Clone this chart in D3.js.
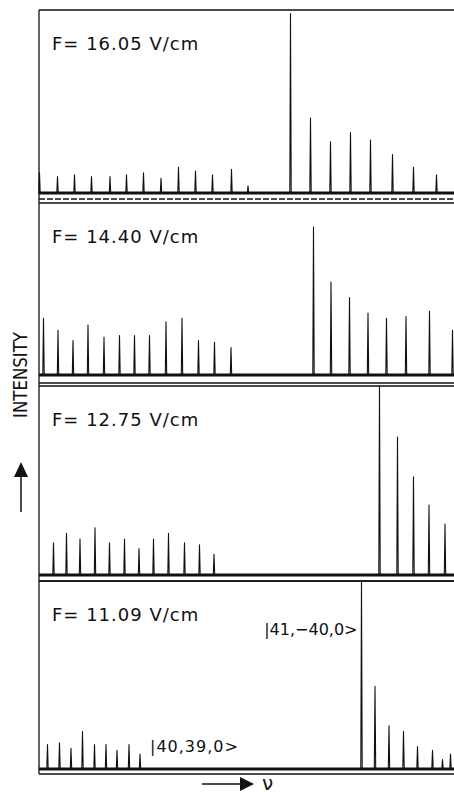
<!doctype html>
<html>
	<head>
		<style>
			body{ margin: 0; background: #fff; }
			#chart text{ font-family: "DejaVu Sans", sans-serif; fill: #111; }
		</style>
	</head>
	<body>
		<svg id=chart></svg>

		<script src="https://d3js.org/d3.v7.min.js"></script>
		<script>
			// field strengths, one panel each (top to bottom)
			var fields = ["F= 16.05 V/cm", "F= 14.40 V/cm", "F= 12.75 V/cm", "F= 11.09 V/cm"];

			// peak positions (arbitrary frequency units) and heights (% of panel height)
			var nu16  = [0.5, 18.5, 35.5, 52.5, 71, 87.5, 104.5, 122, 139.5, 156.5, 173.5, 192.5, 209, 251.5, 271.5, 291.5, 311.5, 331.5, 353.5, 374.5, 397.5];
			var int16 = [11, 9, 10, 9, 9, 10, 11, 8, 14, 12, 10, 13, 4, 98, 41, 28, 33, 29, 21, 14, 10];

			var nu14  = [4.5, 19, 34, 49, 65, 80.5, 95.5, 110.5, 127, 143, 159.5, 175.5, 192, 274.5, 292, 310.5, 329, 347.5, 367, 390.5, 413.5];
			var int14 = [33, 26, 20, 29, 22, 23, 23, 23, 31, 33, 20, 19, 16, 86, 54, 45, 36, 33, 34, 37, 26];

			var nu12  = [14.5, 27.5, 41, 56, 70.5, 85.5, 100, 114.5, 129.5, 145.5, 160.5, 175, 340.5, 358.5, 374.5, 390, 406];
			var int12 = [17, 22, 19, 25, 17, 19, 14, 19, 22, 17, 16, 11, 100, 73, 52, 37, 27];

			var nu11  = [8.5, 20.5, 32, 43.5, 55.5, 67, 78, 90, 101, 322.5, 336, 350, 364.5, 378.5, 393.5, 403.5, 411.5];
			var int11 = [13, 14, 11, 20, 13, 13, 10, 13, 8, 100, 44, 23, 20, 12, 10, 5, 8];

			var peakNu = [nu16, nu14, nu12, nu11],
				peakInt = [int16, int14, int12, int11];

			// panel frames: top, baseline of trace, bottom
			var panels = [
				{top: 10,  base: 193, bottom: 199},
				{top: 203, base: 375, bottom: 383},
				{top: 386, base: 575, bottom: 581},
				{top: 581, base: 769, bottom: 774}
			];

			var width = 454, height = 795, left = 39;
			var chart = d3.select("#chart").attr("width", width).attr("height", height);

			var x = d3.scaleLinear().domain([0, 415]).range([left, width]);

			panels.forEach(function(p, k) {
				var y = d3.scaleLinear().domain([0, 100]).range([p.base, p.top]);
				var g = chart.append("g");

				// frame
				g.append("line").attr("x1", left).attr("x2", width)
					.attr("y1", p.top).attr("y2", p.top)
					.attr("stroke", "#111").attr("stroke-width", 1.3);
				g.append("line").attr("x1", left).attr("x2", width)
					.attr("y1", p.bottom).attr("y2", p.bottom)
					.attr("stroke", "#111").attr("stroke-width", 1.3)
					.attr("stroke-dasharray", k == 0 ? "6,2" : null);

				// noisy baseline band
				g.append("line").attr("x1", left).attr("x2", width)
					.attr("y1", p.base).attr("y2", p.base)
					.attr("stroke", "#111").attr("stroke-width", 3);

				// spectrum: each peak is a narrow spike
				var pts = [[0, 0]];
				peakNu[k].forEach(function(n, i) {
					pts.push([n - 0.7, 0], [n, peakInt[k][i]], [n + 0.7, 0]);
				});
				pts.push([415, 0]);
				var line = d3.line().x(function(d) { return x(d[0]); }).y(function(d) { return y(d[1]); });
				g.append("path").attr("d", line(pts))
					.attr("fill", "none").attr("stroke", "#111")
					.attr("stroke-width", 1.1).attr("stroke-linejoin", "round");

				g.append("text").attr("x", 52).attr("y", p.top + 40)
					.attr("font-size", 18).attr("letter-spacing", 1)
					.text(fields[k]);

				if (k == 3) {
					var big = peakNu[3][9];
					g.append("text").attr("x", x(big) - 4).attr("y", y(0) - 134)
						.attr("text-anchor", "end").attr("font-size", 16)
						.text("|41,\u221240,0>");
					g.append("text").attr("x", x(nu11[8]) + 10).attr("y", y(0) - 17)
						.attr("font-size", 16).attr("letter-spacing", 1)
						.text("|40,39,0>");
				}
			});

			// left border
			chart.append("line").attr("x1", left).attr("x2", left)
				.attr("y1", panels[0].top).attr("y2", panels[3].bottom)
				.attr("stroke", "#111").attr("stroke-width", 1.3);

			// intensity axis label with arrow
			chart.append("text")
				.attr("transform", "translate(27,375) rotate(-90)")
				.attr("text-anchor", "middle").attr("font-size", 19)
				.attr("textLength", 86).attr("lengthAdjust", "spacingAndGlyphs")
				.text("INTENSITY");
			chart.append("line").attr("x1", 21).attr("x2", 21).attr("y1", 512).attr("y2", 476)
				.attr("stroke", "#111").attr("stroke-width", 1.5);
			chart.append("path").attr("d", "M14,477L28,477L21,462Z").attr("fill", "#111");

			// frequency arrow
			chart.append("line").attr("x1", 202).attr("x2", 241).attr("y1", 784).attr("y2", 784)
				.attr("stroke", "#111").attr("stroke-width", 1.5);
			chart.append("path").attr("d", "M240,777L254,784L240,791Z").attr("fill", "#111");
			chart.append("text").attr("x", 262).attr("y", 790).attr("font-size", 20).text("\u03bd");
		</script>
	</body>
</html>
